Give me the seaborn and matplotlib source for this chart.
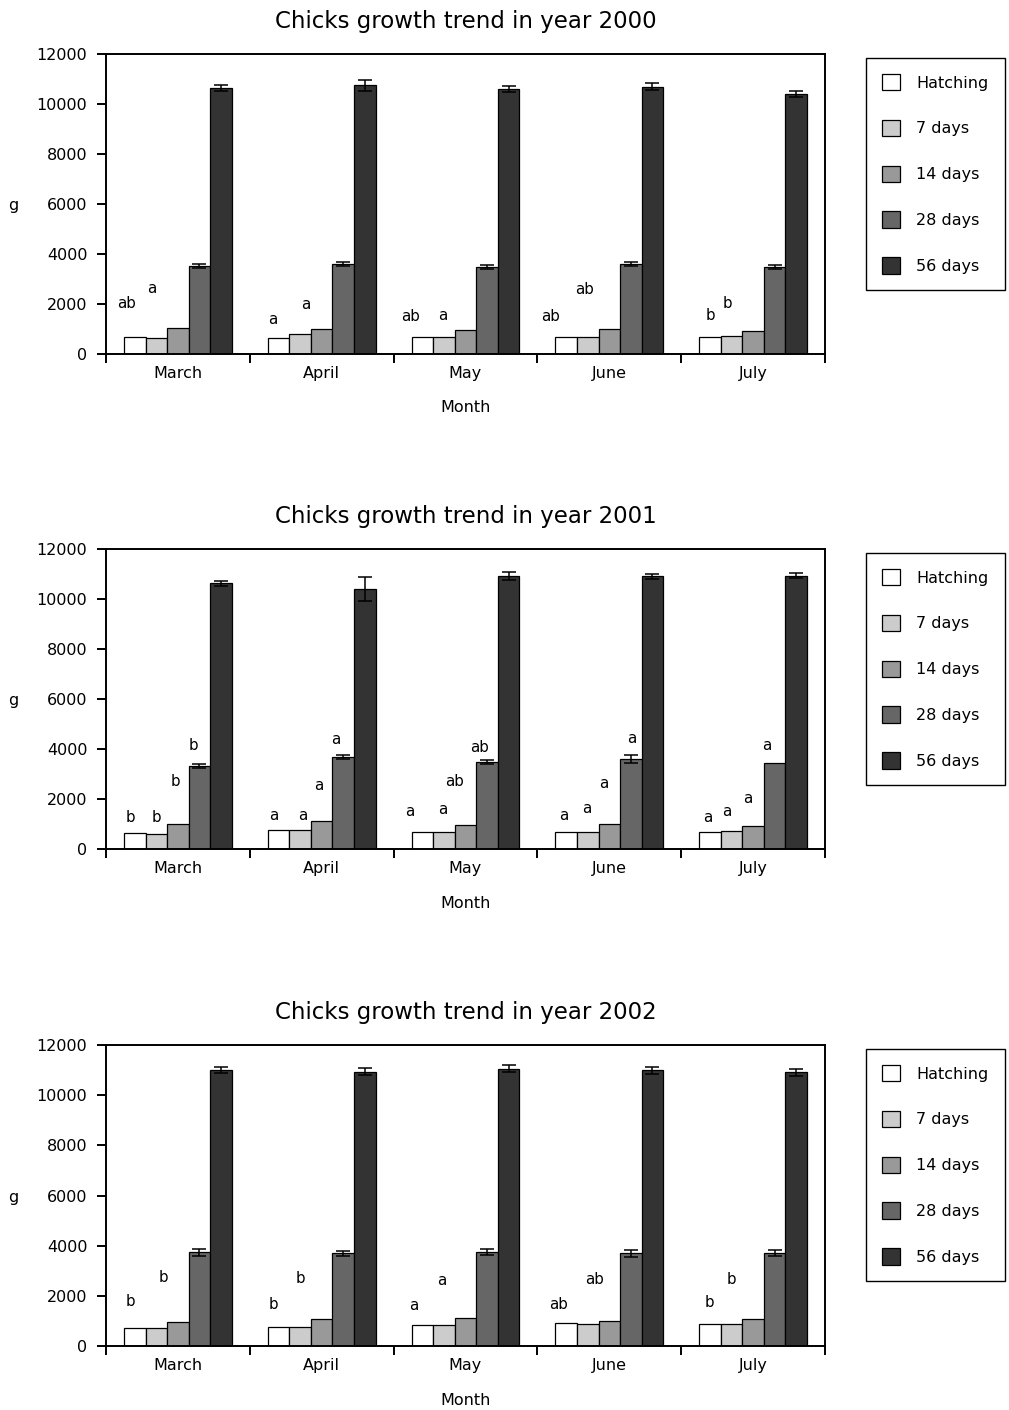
import numpy as np
import pandas as pd
import matplotlib
matplotlib.use("Agg")
import matplotlib.pyplot as plt
import seaborn as sns

# ---------------------------------------------------------------- data
months = ["March", "April", "May", "June", "July"]
stages = ["Hatching", "7 days", "14 days", "28 days", "56 days"]
stage_colors = ["#ffffff", "#cccccc", "#999999", "#666666", "#333333"]
years = [2000, 2001, 2002]

# mean body weight (g) per stage, one value per month
hatch_2000 = [690, 650, 690, 690, 690]
d7_2000 = [650, 790, 690, 690, 720]
d14_2000 = [1030, 990, 950, 990, 920]
d28_2000 = [3540, 3600, 3490, 3600, 3480]
d56_2000 = [10650, 10760, 10600, 10700, 10420]
err28_2000 = [80, 70, 70, 80, 90]
err56_2000 = [120, 220, 120, 140, 120]

hatch_2001 = [630, 770, 680, 690, 690]
d7_2001 = [600, 750, 680, 690, 720]
d14_2001 = [1000, 1120, 950, 1000, 920]
d28_2001 = [3330, 3680, 3470, 3610, 3450]
d56_2001 = [10640, 10420, 10920, 10910, 10930]
err28_2001 = [80, 70, 80, 150, 0]
err56_2001 = [100, 480, 170, 90, 100]

hatch_2002 = [730, 770, 850, 910, 870]
d7_2002 = [720, 770, 830, 880, 870]
d14_2002 = [960, 1080, 1110, 990, 1080]
d28_2002 = [3740, 3690, 3730, 3700, 3710]
d56_2002 = [11010, 10930, 11050, 11000, 10910]
err28_2002 = [140, 110, 120, 140, 130]
err56_2002 = [130, 140, 140, 140, 140]

# significance letters: (text, month index, stage index, height in g, x nudge)
letters_2000 = [("ab", 0, 0, 2030, -0.06), ("a", 0, 1, 2630, -0.035),
                ("a", 1, 0, 1360, -0.04), ("a", 1, 1, 1990, 0.04),
                ("ab", 2, 0, 1490, -0.085), ("a", 2, 1, 1520, -0.007),
                ("ab", 3, 0, 1490, -0.11), ("ab", 3, 1, 2590, -0.02),
                ("b", 4, 0, 1560, 0.0), ("b", 4, 1, 2030, -0.03)]
letters_2001 = [("b", 0, 0, 1270, -0.03), ("b", 0, 1, 1270, 0.0),
                ("b", 0, 2, 2690, -0.015), ("b", 0, 3, 4120, -0.045),
                ("a", 1, 0, 1320, -0.035), ("a", 1, 1, 1320, 0.015),
                ("a", 1, 2, 2560, -0.02), ("a", 1, 3, 4400, -0.055),
                ("a", 2, 0, 1490, -0.09), ("a", 2, 1, 1560, -0.007),
                ("ab", 2, 2, 2690, -0.075), ("ab", 2, 3, 4050, -0.055),
                ("a", 3, 0, 1360, -0.02), ("a", 3, 1, 1630, -0.007),
                ("a", 3, 2, 2630, -0.04), ("a", 3, 3, 4430, 0.007),
                ("a", 4, 0, 1270, -0.015), ("a", 4, 1, 1520, -0.03),
                ("a", 4, 2, 2030, -0.04), ("a", 4, 3, 4120, -0.055)]
letters_2002 = [("b", 0, 0, 1770, -0.03), ("b", 0, 1, 2750, 0.05),
                ("b", 1, 0, 1640, -0.035), ("b", 1, 1, 2710, 0.0),
                ("a", 2, 0, 1600, -0.06), ("a", 2, 1, 2610, -0.015),
                ("ab", 3, 0, 1670, -0.055), ("ab", 3, 1, 2640, 0.05),
                ("b", 4, 0, 1730, -0.007), ("b", 4, 1, 2640, 0.0)]

panels = {
    2000: dict(weights=[hatch_2000, d7_2000, d14_2000, d28_2000, d56_2000],
               errs={3: err28_2000, 4: err56_2000}, letters=letters_2000),
    2001: dict(weights=[hatch_2001, d7_2001, d14_2001, d28_2001, d56_2001],
               errs={3: err28_2001, 4: err56_2001}, letters=letters_2001),
    2002: dict(weights=[hatch_2002, d7_2002, d14_2002, d28_2002, d56_2002],
               errs={3: err28_2002, 4: err56_2002}, letters=letters_2002),
}

# ---------------------------------------------------------------- style
sns.set_theme(style="ticks", rc={
    "axes.edgecolor": "black", "axes.linewidth": 1.4,
    "text.color": "black", "axes.labelcolor": "black",
    "xtick.color": "black", "ytick.color": "black",
})
plt.rcParams["font.family"] = ["DejaVu Sans"]

W, H = 1009, 1410
fig = plt.figure(figsize=(W / 100, H / 100), dpi=100)

# axes boxes in pixels: (left, top, right, bottom)
boxes = [(106, 54, 825, 354), (106, 549, 825, 849), (106, 1045, 825, 1346)]


def bar_centers(container):
    """Map month index -> (bar centre, bar height) for one hue container."""
    out = {}
    for p in container.patches:
        c = p.get_x() + p.get_width() / 2
        out[int(round(c))] = (c, p.get_height())
    return out


for year, (l, t, r, b) in zip(years, boxes):
    spec = panels[year]
    ax = fig.add_axes([l / W, 1 - b / H, (r - l) / W, (b - t) / H])

    rows = []
    for s_i, stage in enumerate(stages):
        for m_i, month in enumerate(months):
            rows.append({"Month": month, "Stage": stage,
                         "Weight": spec["weights"][s_i][m_i]})
    df = pd.DataFrame(rows)

    sns.barplot(data=df, x="Month", y="Weight", hue="Stage",
                order=months, hue_order=stages, palette=stage_colors,
                saturation=1, width=0.75, errorbar=None,
                edgecolor="black", linewidth=0.9, ax=ax, zorder=2)

    centers = [bar_centers(c) for c in ax.containers]

    # error bars on the 28- and 56-day bars
    for s_i, errs in spec["errs"].items():
        xs, ys, es = [], [], []
        for m_i in range(len(months)):
            if errs[m_i] <= 0:
                continue
            c, h = centers[s_i][m_i]
            xs.append(c)
            ys.append(h)
            es.append(errs[m_i])
        ax.errorbar(xs, ys, yerr=es, fmt="none", ecolor="black",
                    elinewidth=1.1, capsize=4.7, capthick=1.1, zorder=3)

    for text, m_i, s_i, yv, dx in spec["letters"]:
        c, _ = centers[s_i][m_i]
        ax.text(c + dx, yv, text, ha="center", va="center", fontsize=10.8)

    ax.set_xlim(-0.5, len(months) - 0.5)
    ax.set_ylim(0, 12000)
    ax.set_yticks(np.arange(0, 12001, 2000))
    ax.set_xticks(np.arange(-0.5, len(months), 1), minor=True)
    ax.tick_params(axis="x", which="major", length=0, pad=8.5, labelsize=11.5)
    ax.tick_params(axis="x", which="minor", length=6.8, width=1.4,
                   direction="out")
    ax.tick_params(axis="y", which="major", length=6.5, width=1.4,
                   direction="out", pad=7, labelsize=11.5)
    for side in ["top", "right", "left", "bottom"]:
        ax.spines[side].set_visible(True)
        ax.spines[side].set_linewidth(1.4)
        ax.spines[side].set_color("black")

    ax.set_title(f"Chicks growth trend in year {year}", fontsize=16.5,
                 pad=18.4)
    ax.set_xlabel("Month", fontsize=11.5, va="top")
    ax.xaxis.set_label_coords(0.5, -0.155)
    ax.set_ylabel("g", fontsize=11.5, rotation=0, ha="center", va="center")
    ax.yaxis.set_label_coords(-0.129, 0.495)

    sns.move_legend(ax, "upper left",
                    bbox_to_anchor=(866 / W, 1 - (t + 4) / H),
                    bbox_transform=fig.transFigure, title=None,
                    frameon=True, fancybox=False, framealpha=1,
                    edgecolor="black", fontsize=11.5,
                    handlelength=1.15, handleheight=1.2,
                    handletextpad=1.0, borderpad=1.0,
                    labelspacing=1.83, borderaxespad=0)
    leg = ax.get_legend()
    leg.get_frame().set_linewidth(1.0)
    for h in leg.legend_handles:
        h.set_edgecolor("black")
        h.set_linewidth(0.9)

fig.savefig("out.png", dpi=100)
